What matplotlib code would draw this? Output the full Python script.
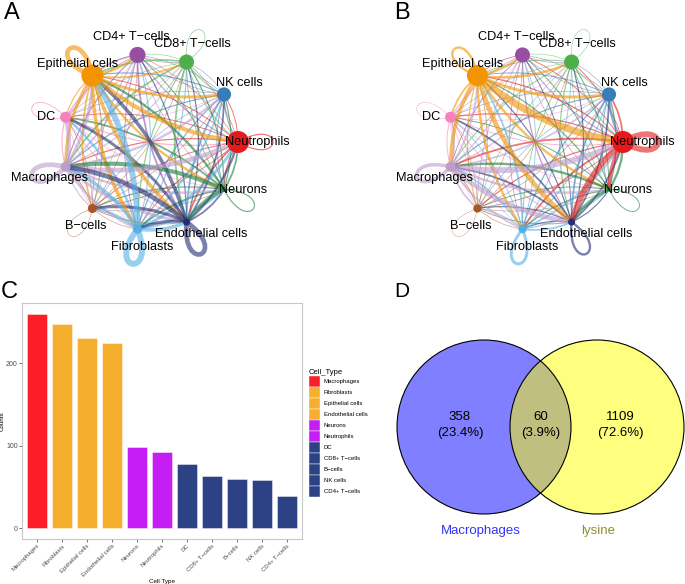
import numpy as np
import matplotlib
matplotlib.use("Agg")
import matplotlib.pyplot as plt
from matplotlib.path import Path
from matplotlib.patches import PathPatch, Patch, Circle

plt.rcParams['font.family'] = ['Liberation Sans', 'DejaVu Sans']

# ---------------- data ----------------
cells = ['Neutrophils', 'NK cells', 'CD8+ T\u2212cells', 'CD4+ T\u2212cells',
         'Epithelial cells', 'DC', 'Macrophages', 'B\u2212cells',
         'Fibroblasts', 'Endothelial cells', 'Neurons']
cell_colors = ['#E41A1C', '#377EB8', '#4DAF4A', '#984EA3', '#F29403', '#F781BF',
               '#BC9DCC', '#A65628', '#54B0E4', '#222F75', '#1B7C3D']

# vertex weights (relative group size)
node_weight_a = [100, 64, 68, 73, 100, 50, 45, 41, 41, 32, 23]
node_weight_b = [100, 64, 68, 68, 95, 50, 45, 37, 37, 32, 18]

# interaction strength, rows = source, cols = target (order as cells)
weights_a = [
    [1.0, 0.8, 0.5, 0.5, 0.8, 0.8, 1.0, 0.8, 0.8, 1.5, 1.0],
    [1.0, 0.0, 0.5, 0.5, 1.0, 0.5, 1.0, 0.5, 1.0, 1.5, 0.8],
    [0.8, 0.8, 0.6, 0.5, 1.5, 0.5, 1.5, 0.5, 1.0, 1.5, 0.8],
    [0.8, 0.5, 0.5, 0.0, 1.2, 0.6, 1.0, 0.6, 0.8, 1.5, 0.5],
    [3.5, 2.5, 1.5, 2.0, 4.0, 1.0, 2.5, 1.5, 3.0, 3.0, 2.0],
    [1.0, 0.5, 0.5, 0.5, 1.5, 0.8, 1.0, 0.5, 0.5, 0.8, 0.5],
    [4.0, 2.0, 1.0, 1.5, 2.5, 3.0, 4.0, 1.0, 2.0, 2.5, 2.0],
    [0.8, 0.5, 0.5, 0.5, 0.8, 0.5, 0.8, 0.5, 0.5, 0.8, 0.5],
    [2.5, 1.5, 1.0, 1.0, 5.0, 2.0, 3.0, 2.0, 5.0, 3.0, 2.0],
    [2.0, 1.5, 1.0, 1.0, 3.0, 2.5, 4.0, 2.5, 2.5, 4.0, 1.5],
    [1.5, 1.0, 1.0, 0.8, 2.0, 1.5, 3.5, 1.0, 1.5, 3.0, 1.0],
]
weights_b = [
    [5.0, 1.5, 0.8, 0.8, 1.0, 1.0, 1.5, 1.0, 1.5, 5.0, 3.0],
    [2.0, 0.0, 0.5, 0.5, 0.8, 0.5, 1.0, 0.5, 1.0, 1.5, 0.8],
    [0.8, 0.6, 0.5, 0.5, 0.8, 0.5, 0.8, 0.5, 0.8, 1.0, 0.5],
    [0.8, 0.5, 0.5, 0.0, 0.8, 0.5, 0.8, 0.5, 0.6, 1.0, 0.5],
    [6.0, 2.5, 2.0, 2.0, 2.0, 1.5, 3.0, 1.0, 2.0, 4.0, 2.0],
    [0.8, 0.5, 0.5, 0.5, 1.0, 0.5, 0.8, 0.5, 0.5, 0.8, 0.5],
    [5.0, 1.5, 1.0, 1.0, 1.5, 1.5, 3.0, 1.5, 1.5, 4.0, 2.0],
    [0.8, 0.5, 0.5, 0.5, 0.6, 0.5, 0.8, 0.4, 0.5, 0.8, 0.5],
    [1.5, 1.0, 0.8, 0.8, 1.5, 0.8, 1.5, 1.0, 2.5, 1.5, 1.0],
    [1.5, 1.5, 1.0, 0.8, 1.0, 1.5, 1.5, 1.0, 1.0, 2.0, 1.0],
    [2.0, 1.0, 0.8, 0.8, 1.0, 0.8, 2.0, 0.8, 1.0, 2.5, 0.8],
]

bar_types = ['Macrophages', 'Fibroblasts', 'Epithelial cells', 'Endothelial cells',
             'Neurons', 'Neutrophils', 'DC', 'CD8+ T\u2212cells', 'B\u2212cells',
             'NK cells', 'CD4+ T\u2212cells']
bar_counts = [260, 247, 231, 224, 98, 92, 78, 63, 60, 58, 39]
bar_colors = ['#FC1E26', '#F6AE2E', '#F6AE2E', '#F6AE2E', '#C41EF4', '#C41EF4',
              '#2D4285', '#2D4285', '#2D4285', '#2D4285', '#2D4285']

venn_names = ['Macrophages', 'lysine']
venn_counts = [358, 60, 1109]   # only A, both, only B

# ---------------- figure ----------------
W, H = 685, 584
fig = plt.figure(figsize=(W / 100, H / 100), dpi=100)


def px_axes(x0, y0, w, h):
    ax = fig.add_axes([x0 / W, 1 - (y0 + h) / H, w / W, h / H])
    ax.set_xlim(0, w)
    ax.set_ylim(h, 0)
    ax.axis('off')
    return ax


def draw_net(ax, weights, node_weight):
    n = len(cells)
    cx, cy, R = 150, 142, 88
    theta = np.deg2rad(np.arange(n) * 360.0 / n)
    xs = cx + R * np.cos(theta)
    ys = cy - R * np.sin(theta)
    edges = []
    for i in range(n):
        for j in range(n):
            if weights[i][j] > 0:
                edges.append((weights[i][j], i, j))
    edges.sort()
    for w, i, j in edges:
        p0 = np.array([xs[i], ys[i]])
        if i == j:
            d = np.deg2rad(30)
            L = 54
            a = theta[i]
            p1 = p0 + L * np.array([np.cos(a + d), -np.sin(a + d)])
            p2 = p0 + L * np.array([np.cos(a - d), -np.sin(a - d)])
            path = Path([p0, p1, p2, p0],
                        [Path.MOVETO, Path.CURVE4, Path.CURVE4, Path.CURVE4])
        else:
            p2 = np.array([xs[j], ys[j]])
            v = p2 - p0
            perp = np.array([-v[1], v[0]])
            ctrl = (p0 + p2) / 2 + 0.15 * perp
            path = Path([p0, ctrl, p2], [Path.MOVETO, Path.CURVE3, Path.CURVE3])
        ax.add_patch(PathPatch(path, facecolor='none', edgecolor=cell_colors[i],
                               alpha=0.6, lw=w * 0.85, capstyle='butt'))
    nw = np.array(node_weight, dtype=float)
    radius = nw / nw.max() * 11
    for k in range(n):
        ax.add_patch(Circle((xs[k], ys[k]), radius[k], facecolor=cell_colors[k],
                            edgecolor='none', zorder=5))
        phi = theta[k] + np.deg2rad(3 * k)
        ax.text(xs[k] + 19 * np.cos(phi), ys[k] - 19 * np.sin(phi), cells[k],
                ha='center', va='center', fontsize=9.2, color='black', zorder=6)


ax_a = px_axes(0, 0, 342, 280)
draw_net(ax_a, weights_a, node_weight_a)
ax_b = px_axes(385, 0, 300, 280)
draw_net(ax_b, weights_b, node_weight_b)

# ---------------- panel C ----------------
axc = fig.add_axes([22 / W, 1 - 539 / H, 280 / W, 236 / H])
x = np.arange(len(bar_types))
axc.bar(x, bar_counts, width=0.8, color=bar_colors,
        edgecolor=(1, 1, 1, 0.5), linewidth=0.6)
axc.set_xlim(-0.6, len(bar_types) - 0.4)
axc.set_ylim(-13, 273)
axc.set_yticks([0, 100, 200])
axc.set_xticks(x)
axc.set_xticklabels(bar_types, rotation=45, ha='right', rotation_mode='anchor',
                    fontsize=4.3, color='#4D4D4D')
axc.tick_params(axis='y', labelsize=5, labelcolor='#4D4D4D')
axc.tick_params(length=2, width=0.5, color='#333333', pad=1.0)
for s in axc.spines.values():
    s.set_color('#C8C8C8')
    s.set_linewidth(0.8)
axc.set_ylabel('Counts', fontsize=4.5, labelpad=1)
axc.set_xlabel('Cell Type', fontsize=4.5, labelpad=1)

handles = [Patch(facecolor=c, edgecolor='white', linewidth=0.3) for c in bar_colors]
leg = fig.legend(handles, bar_types, title='Cell_Type', loc='upper left',
                 bbox_to_anchor=(309 / W, 1 - 369 / H), frameon=False,
                 fontsize=4.3, title_fontsize=5.5, handlelength=1.84,
                 handleheight=2.46, labelspacing=0, handletextpad=0.6,
                 borderpad=0, borderaxespad=0, alignment='left')

# ---------------- panel D ----------------
axd = px_axes(360, 280, 325, 304)
r = 87
cl = np.array([124, 147])
cr = cl + np.array([113, 0])
for c, col in [(cl, (0, 0, 1, 0.5)), (cr, (1, 1, 0, 0.5))]:
    axd.add_patch(Circle(c, r, facecolor=col, edgecolor='none'))
for c in (cl, cr):
    axd.add_patch(Circle(c, r, facecolor='none', edgecolor='black', lw=0.8))
total = sum(venn_counts)
pos_x = [cl[0] - 24, (cl[0] + cr[0]) / 2, cr[0] + 23]
for px_, v in zip(pos_x, venn_counts):
    axd.text(px_, cl[1] - 2, '%d\n(%.1f%%)' % (v, 100.0 * v / total), ha='center',
             va='center', fontsize=9.5, linespacing=1.35)
axd.text(cl[0] - 3, cl[1] + r + 17, venn_names[0], ha='center', va='center',
         fontsize=9.5, color='#3333FF')
axd.text(cr[0] + 1, cr[1] + r + 17, venn_names[1], ha='center', va='center',
         fontsize=9.5, color='#8F8F2E')

# panel letters
for lab, xx, yy, fs in [('A', 4, 2, 17), ('B', 394, 2, 17), ('C', 1, 281, 17),
                        ('D', 394, 282, 15)]:
    fig.text(xx / W, 1 - yy / H, lab, ha='left', va='top', fontsize=fs)

fig.savefig('out.png', dpi=100)
